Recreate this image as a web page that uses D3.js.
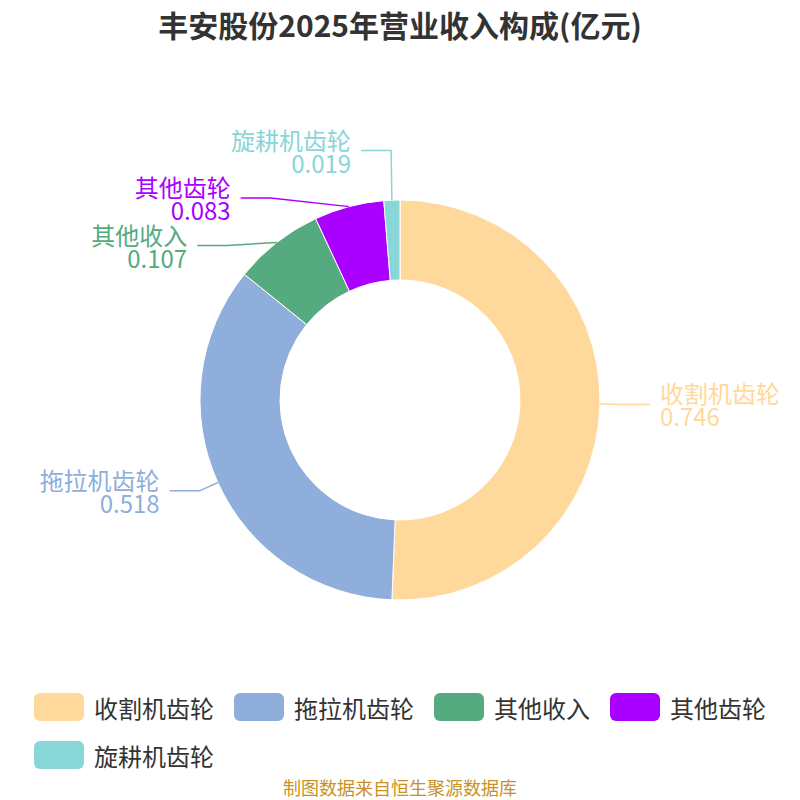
<!DOCTYPE html>
<html>
<head>
<meta charset="utf-8">
<script src="https://cdn.jsdelivr.net/npm/d3@7"></script>
<style>
  html, body { margin: 0; padding: 0; background: #fff; }
  text { font-family: "Noto Sans CJK SC", "Noto Sans", sans-serif; }
</style>
</head>
<body>
<svg id="chart" width="800" height="800"></svg>
<script>
'use strict';

var titleText = '丰安股份2025年营业收入构成(亿元)';
var sourceText = '制图数据来自恒生聚源数据库';
var categories = ['收割机齿轮', '拖拉机齿轮', '其他收入', '其他齿轮', '旋耕机齿轮'];
var values = [0.746, 0.518, 0.107, 0.083, 0.019];
var colors = ['#ffd99b', '#8faedb', '#55aa7f', '#aa00ff', '#88d6d8'];

var W = 800, cx = 400, cy = 400, rOuter = 200, rInner = 120;
var lineLen = 20, lineLen2 = 30, labelH = 47.5;

var svg = d3.select('#chart');

svg.append('text')
  .attr('x', W / 2).attr('y', 24)
  .attr('text-anchor', 'middle').attr('dominant-baseline', 'central')
  .attr('font-size', 30).attr('font-weight', 'bold').attr('fill', '#333')
  .text(titleText);

var color = d3.scaleOrdinal().domain(categories).range(colors);

var pie = d3.pie().sort(null).value(function(d) { return d.value; });
var data = pie(categories.map(function(c, i) { return { name: c, value: values[i] }; }));

var arc = d3.arc().innerRadius(rInner).outerRadius(rOuter);

var g = svg.append('g').attr('transform', 'translate(' + cx + ',' + cy + ')');

g.selectAll('path.slice').data(data).enter().append('path')
  .attr('class', 'slice')
  .attr('d', arc)
  .attr('fill', function(d) { return color(d.data.name); })
  .attr('stroke', '#fff').attr('stroke-width', 1);

// label layout: outer labels, pushed apart on each side
var labels = data.map(function(d) {
  var a = (d.startAngle + d.endAngle) / 2;
  var sx = Math.sin(a), sy = -Math.cos(a);
  var dir = sx >= 0 ? 1 : -1;
  var p1 = [rOuter * sx, rOuter * sy];
  var p2 = [(rOuter + lineLen) * sx, (rOuter + lineLen) * sy];
  return { d: d, dir: dir, p1: p1, p2: p2, y: p2[1], y0: p2[1], shifted: false };
});

function spread(side) {
  var list = labels.filter(function(l) { return l.dir === side; })
    .sort(function(a, b) { return a.y - b.y; });
  // group overlapping labels into clusters, centre each cluster on its mean
  var clusters = list.map(function(l) { return [l]; });
  var merged = true;
  while (merged) {
    merged = false;
    clusters.forEach(function(c) {
      var mean = d3.mean(c, function(l) { return l.y0; });
      c.top = mean - labelH * c.length / 2;
    });
    for (var i = 1; i < clusters.length; i++) {
      var prev = clusters[i - 1];
      if (prev.top + labelH * prev.length > clusters[i].top) {
        var c = prev.concat(clusters[i]);
        clusters.splice(i - 1, 2, c);
        merged = true;
        break;
      }
    }
  }
  clusters.forEach(function(c) {
    var mean = d3.mean(c, function(l) { return l.y0; });
    var top = mean - labelH * c.length / 2;
    c.forEach(function(l, k) {
      l.y = top + labelH * (k + 0.5);
      l.shifted = c.length > 1;
    });
  });
  // put shifted labels back onto an ellipse around the pie
  ['top', 'bottom'].forEach(function(half) {
    var semi = list.filter(function(l) { return l.shifted && (half === 'top' ? l.y < 0 : l.y >= 0); });
    if (!semi.length) return;
    var rA = rOuter + lineLen;
    var far = semi.reduce(function(m, l) { return Math.abs(l.y) > Math.abs(m.y) ? l : m; });
    var dx0 = far.p2[0];
    var rB = Math.abs(dx0) < rA ? Math.abs(far.y) / Math.sqrt(1 - dx0 * dx0 / rA / rA) : rA;
    semi.forEach(function(l) {
      var dy = Math.abs(l.y);
      l.p2 = [side * Math.sqrt(Math.max(0, 1 - dy * dy / rB / rB)) * rA, l.y];
    });
  });
}
spread(1);
spread(-1);

labels.forEach(function(l) {
  l.p2[1] = l.y;
  l.p3 = [l.p2[0] + l.dir * lineLen2, l.y];
});

var lab = g.selectAll('g.label').data(labels).enter().append('g').attr('class', 'label');

lab.append('polyline')
  .attr('points', function(l) { return [l.p1, l.p2, l.p3].map(function(p) { return p.join(','); }).join(' '); })
  .attr('fill', 'none')
  .attr('stroke', function(l) { return color(l.d.data.name); })
  .attr('stroke-width', 1.5);

var txt = lab.append('text')
  .attr('text-anchor', function(l) { return l.dir > 0 ? 'start' : 'end'; })
  .attr('font-size', 24)
  .attr('fill', function(l) { return color(l.d.data.name); });

txt.append('tspan')
  .attr('x', function(l) { return l.p3[0] + l.dir * 10; })
  .attr('y', function(l) { return l.y - 11.5; })
  .attr('dominant-baseline', 'central')
  .text(function(l) { return l.d.data.name; });

txt.append('tspan')
  .attr('x', function(l) { return l.p3[0] + l.dir * 10; })
  .attr('y', function(l) { return l.y + 11.5; })
  .attr('dominant-baseline', 'central')
  .text(function(l) { return d3.format('.3f')(l.d.data.value); });

// legend, wrapped rows, centred block with left aligned rows
var legend = svg.append('g');
var items = legend.selectAll('g.item').data(categories).enter().append('g').attr('class', 'item');

items.append('rect')
  .attr('width', 50).attr('height', 28).attr('rx', 6).attr('ry', 6)
  .attr('fill', function(d) { return color(d); });

items.append('text')
  .attr('x', 60).attr('y', 14)
  .attr('dominant-baseline', 'central')
  .attr('font-size', 24).attr('fill', '#333')
  .text(function(d) { return d; });

var rows = [[]], maxW = 760, gap = 20;
items.each(function() {
  var w = 60 + this.querySelector('text').getComputedTextLength();
  var row = rows[rows.length - 1];
  var used = d3.sum(row, function(r) { return r.w; }) + gap * row.length;
  if (row.length && used + w > maxW) { row = []; rows.push(row); }
  row.push({ node: this, w: w });
});
var rowWidths = rows.map(function(r) { return d3.sum(r, function(i) { return i.w; }) + gap * (r.length - 1); });
var left = (W - d3.max(rowWidths)) / 2;
rows.forEach(function(r, ri) {
  var x = left;
  r.forEach(function(it) {
    d3.select(it.node).attr('transform', 'translate(' + x + ',' + (693 + ri * 48) + ')');
    x += it.w + gap;
  });
});

svg.append('text')
  .attr('x', W / 2).attr('y', 787)
  .attr('text-anchor', 'middle').attr('dominant-baseline', 'central')
  .attr('font-size', 18).attr('fill', '#c9921f')
  .text(sourceText);
</script>
</body>
</html>
